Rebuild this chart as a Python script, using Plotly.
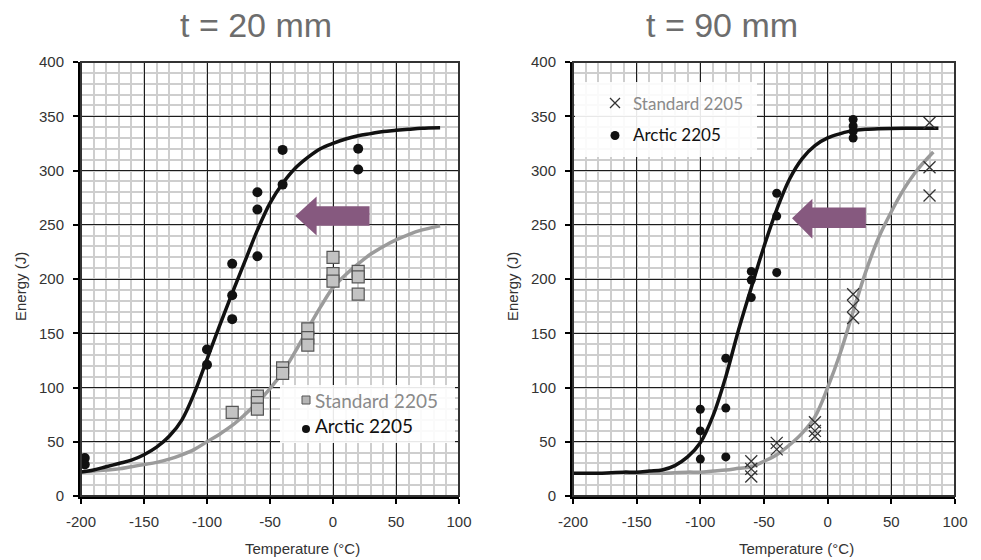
import plotly.graph_objects as go

# ---------------------------------------------------------------- data
# t = 20 mm : measured impact energies (J) vs test temperature (°C)
std20_T = [-80, -60, -60, -60, -40, -40, -20, -20, -20, 0, 0, 0, 20, 20, 20]
std20_E = [77, 92, 86, 80, 118, 113, 154, 146, 139, 220, 205, 198, 207, 202, 186]
arc20_T = [-197, -197, -100, -100, -80, -80, -80, -60, -60, -60, -40, -40, 20, 20]
arc20_E = [35, 29, 135, 121, 214, 185, 163, 280, 264, 221, 319, 287, 320, 301]

# t = 20 mm : transition curves
arc20_curve_T = [-200, -190, -180, -170, -160, -150, -140, -130, -120, -110, -100, -90,
                 -80, -70, -60, -50, -40, -30, -20, -10, 0, 10, 20, 30, 40, 50, 60, 70, 85]
arc20_curve_E = [22, 24, 27, 30, 33, 38, 45, 55, 70, 95, 126, 157,
                 187, 216, 245, 270, 288, 302, 312, 320, 325, 329, 332, 334, 336, 337, 338,
                 339, 339.5]
std20_curve_T = [-200, -190, -180, -170, -160, -150, -140, -130, -120, -110, -100, -90,
                 -80, -70, -60, -50, -40, -30, -20, -10, 0, 10, 20, 30, 40, 50, 60, 70, 85]
std20_curve_E = [22, 23, 24, 25, 27, 29, 31, 34, 38, 43, 50, 57,
                 65, 75, 86, 99, 114, 133, 154, 174, 192, 204, 214, 223, 230, 236, 241,
                 245, 249]

# t = 90 mm : measured impact energies
std90_T = [-60, -60, -60, -40, -40, -10, -10, -10, 20, 20, 20, 80, 80, 80]
std90_E = [32, 25, 18, 49, 43, 68, 60, 55, 186, 175, 164, 344, 303, 277]
arc90_T = [-100, -100, -100, -80, -80, -80, -60, -60, -60, -40, -40, -40, 20, 20, 20, 20]
arc90_E = [80, 60, 34, 127, 81, 36, 207, 199, 183, 279, 258, 206, 347, 341, 336, 330]

# t = 90 mm : transition curves
arc90_curve_T = [-200, -190, -180, -170, -160, -150, -140, -130, -120, -110, -100, -90,
                 -80, -70, -60, -50, -40, -30, -20, -10, 0, 10, 20, 30, 40, 60, 87]
arc90_curve_E = [21, 21, 21, 21.5, 22, 22, 23, 24, 28, 36, 49, 74,
                 110, 153, 192, 230, 264, 292, 311, 323, 330, 334, 337, 338, 338.5, 339, 339]
std90_curve_T = [-160, -150, -140, -130, -120, -110, -100, -90, -80, -70, -60, -50,
                 -40, -30, -20, -10, 0, 10, 20, 30, 40, 50, 60, 70, 83]
std90_curve_E = [21, 21, 21, 21, 21.5, 22, 22, 23, 24, 25.5, 27, 32,
                 38, 47, 58, 73, 100, 132, 170, 207, 238, 262, 283, 300, 317]

# axis ticks
x_tickvals = [-200, -150, -100, -50, 0, 50, 100]
x_ticktext = ["-200", "-150", "-100", "-50", "0", "50", "100"]
y_tickvals = [0, 50, 100, 150, 200, 250, 300, 350, 400]
y_ticktext = ["0", "50", "100", "150", "200", "250", "300", "350", "400"]

titles = ["t = 20 mm", "t = 90 mm"]
series_names = ["Standard 2205", "Arctic 2205"]

# ---------------------------------------------------------------- layout helpers
W, H = 981, 560


def px(x):
    return x / W


def py(y):
    return 1 - y / H


BLACK = "#111111"
GREY_LINE = "#9b9b9b"
GREY_TEXT = "#8a8a8a"
ARROW = "#86597f"
TICK_FONT = dict(family="Liberation Sans, Arial, sans-serif", size=15, color="#333333")
CURVE = dict(width=3.5, shape="spline", smoothing=1.0)

fig = go.Figure()

# ---------------------------------------------------------------- left panel
fig.add_trace(go.Scatter(x=std20_curve_T, y=std20_curve_E, mode="lines",
                         line=dict(color=GREY_LINE, **CURVE),
                         xaxis="x", yaxis="y", hoverinfo="skip"))
fig.add_trace(go.Scatter(x=arc20_curve_T, y=arc20_curve_E, mode="lines",
                         line=dict(color=BLACK, **CURVE),
                         xaxis="x", yaxis="y", hoverinfo="skip"))
fig.add_trace(go.Scatter(x=std20_T, y=std20_E, mode="markers", name=series_names[0],
                         marker=dict(symbol="square", size=12, color="#c3c3c3",
                                     line=dict(color="#555555", width=1.2)),
                         xaxis="x", yaxis="y", cliponaxis=False))
fig.add_trace(go.Scatter(x=arc20_T, y=arc20_E, mode="markers", name=series_names[1],
                         marker=dict(symbol="circle", size=10, color=BLACK),
                         xaxis="x", yaxis="y", cliponaxis=False))

# ---------------------------------------------------------------- right panel
fig.add_trace(go.Scatter(x=std90_curve_T, y=std90_curve_E, mode="lines",
                         line=dict(color=GREY_LINE, **CURVE),
                         xaxis="x2", yaxis="y2", hoverinfo="skip"))
fig.add_trace(go.Scatter(x=arc90_curve_T, y=arc90_curve_E, mode="lines",
                         line=dict(color=BLACK, **CURVE),
                         xaxis="x2", yaxis="y2", hoverinfo="skip"))
fig.add_trace(go.Scatter(x=std90_T, y=std90_E, mode="markers", name=series_names[0],
                         marker=dict(symbol="x-thin", size=12, color="#333333",
                                     line=dict(color="#333333", width=1.3)),
                         xaxis="x2", yaxis="y2", cliponaxis=False))
fig.add_trace(go.Scatter(x=arc90_T, y=arc90_E, mode="markers", name=series_names[1],
                         marker=dict(symbol="circle", size=9, color=BLACK),
                         xaxis="x2", yaxis="y2", cliponaxis=False))


def axis_style(domain, is_x, anchor):
    ax = dict(
        domain=domain, anchor=anchor, automargin=False,
        showgrid=True, gridcolor="#1c1c1c", gridwidth=1.4,
        minor=dict(dtick=10, showgrid=True, gridcolor="#cecece", gridwidth=2),
        showline=True, linecolor="black", linewidth=3,
        ticks="outside", ticklen=5, tickwidth=2, tickcolor="black",
        zeroline=False, tickfont=TICK_FONT, fixedrange=True,
    )
    if is_x:
        ax.update(range=[-200, 100], tickvals=x_tickvals, ticktext=x_ticktext,
                  ticklabelstandoff=5)
    else:
        ax.update(range=[0, 400], tickvals=y_tickvals, ticktext=y_ticktext,
                  ticklabelstandoff=6)
    return ax


y_dom = [py(496), py(62)]
fig.update_layout(
    template="none",
    width=W, height=H,
    margin=dict(l=0, r=0, t=0, b=0, autoexpand=False),
    paper_bgcolor="white", plot_bgcolor="white",
    showlegend=False,
    xaxis=axis_style([px(81), px(459)], True, "y"),
    yaxis=axis_style(y_dom, False, "x"),
    xaxis2=axis_style([px(573), px(955)], True, "y2"),
    yaxis2=axis_style(y_dom, False, "x2"),
)

shapes = []
# plot frames (top / right edges)
for xr, yr in (("x", "y"), ("x2", "y2")):
    shapes.append(dict(type="rect", xref=f"{xr} domain", yref=f"{yr} domain",
                       x0=0, x1=1, y0=0, y1=1, line=dict(color="#333333", width=2),
                       layer="above"))

# shift arrows (Arctic curve moved to lower temperatures)
left_arrow = "M -30,258 L -13,276 L -13,267 L 29,267 L 29,249 L -13,249 L -13,240 Z"
right_arrow = "M -28,256 L -12,274 L -12,266 L 30,266 L 30,247 L -12,247 L -12,237 Z"
shapes.append(dict(type="path", xref="x", yref="y", path=left_arrow,
                   fillcolor=ARROW, line=dict(width=0), layer="above"))
shapes.append(dict(type="path", xref="x2", yref="y2", path=right_arrow,
                   fillcolor=ARROW, line=dict(width=0), layer="above"))

# legend boxes
shapes.append(dict(type="rect", xref="paper", yref="paper",
                   x0=px(280), x1=px(455), y0=py(443), y1=py(385),
                   fillcolor="rgba(255,255,255,0.9)", line=dict(width=0), layer="above"))
shapes.append(dict(type="rect", xref="paper", yref="paper",
                   x0=px(575), x1=px(757), y0=py(157), y1=py(82),
                   fillcolor="rgba(255,255,255,0.9)", line=dict(width=0), layer="above"))
# legend symbols, left panel
shapes.append(dict(type="rect", xref="paper", yref="paper",
                   x0=px(302), x1=px(310), y0=py(404), y1=py(396),
                   fillcolor="#b5b5b5", line=dict(color="#555555", width=1), layer="above"))
shapes.append(dict(type="circle", xref="paper", yref="paper",
                   x0=px(302), x1=px(310), y0=py(433), y1=py(425),
                   fillcolor=BLACK, line=dict(width=0), layer="above"))
# legend symbols, right panel
shapes.append(dict(type="path", xref="paper", yref="paper",
                   path=(f"M {px(610)},{py(98)} L {px(620)},{py(108)} "
                         f"M {px(610)},{py(108)} L {px(620)},{py(98)}"),
                   line=dict(color="#333333", width=1.3), layer="above"))
shapes.append(dict(type="circle", xref="paper", yref="paper",
                   x0=px(610.5), x1=px(619.5), y0=py(140), y1=py(131),
                   fillcolor=BLACK, line=dict(width=0), layer="above"))

annotations = []
LEG_FONT = "Lato, 'Open Sans', sans-serif"
annotations += [
    dict(text=series_names[0], x=px(313), y=py(400), xanchor="left", yanchor="middle",
         font=dict(family=LEG_FONT, size=19, color=GREY_TEXT)),
    dict(text=series_names[1], x=px(313), y=py(425), xanchor="left", yanchor="middle",
         font=dict(family=LEG_FONT, size=19, color=BLACK)),
    dict(text=series_names[0], x=px(631), y=py(103), xanchor="left", yanchor="middle",
         font=dict(family=LEG_FONT, size=17, color=GREY_TEXT)),
    dict(text=series_names[1], x=px(631), y=py(134), xanchor="left", yanchor="middle",
         font=dict(family=LEG_FONT, size=17, color=BLACK)),
]
# panel titles
for txt, cx in zip(titles, (256, 722)):
    annotations.append(dict(text=txt, x=px(cx), y=py(25), xanchor="center", yanchor="middle",
                            font=dict(family="Liberation Sans, Arial, sans-serif", size=34,
                                      color="#6d6d6d")))
# axis titles
AX_TITLE_FONT = dict(family="Liberation Sans, Arial, sans-serif", size=15, color="#333333")
for cx in (20, 512):
    annotations.append(dict(text="Energy (J)", x=px(cx), y=py(287), textangle=-90,
                            xanchor="center", yanchor="middle", font=AX_TITLE_FONT))
for cx in (302, 796):
    annotations.append(dict(text="Temperature (°C)", x=px(cx), y=py(548),
                            xanchor="center", yanchor="middle", font=AX_TITLE_FONT))
for a in annotations:
    a.update(xref="paper", yref="paper", showarrow=False)

fig.update_layout(shapes=shapes, annotations=annotations)
fig.write_html("out.html")
